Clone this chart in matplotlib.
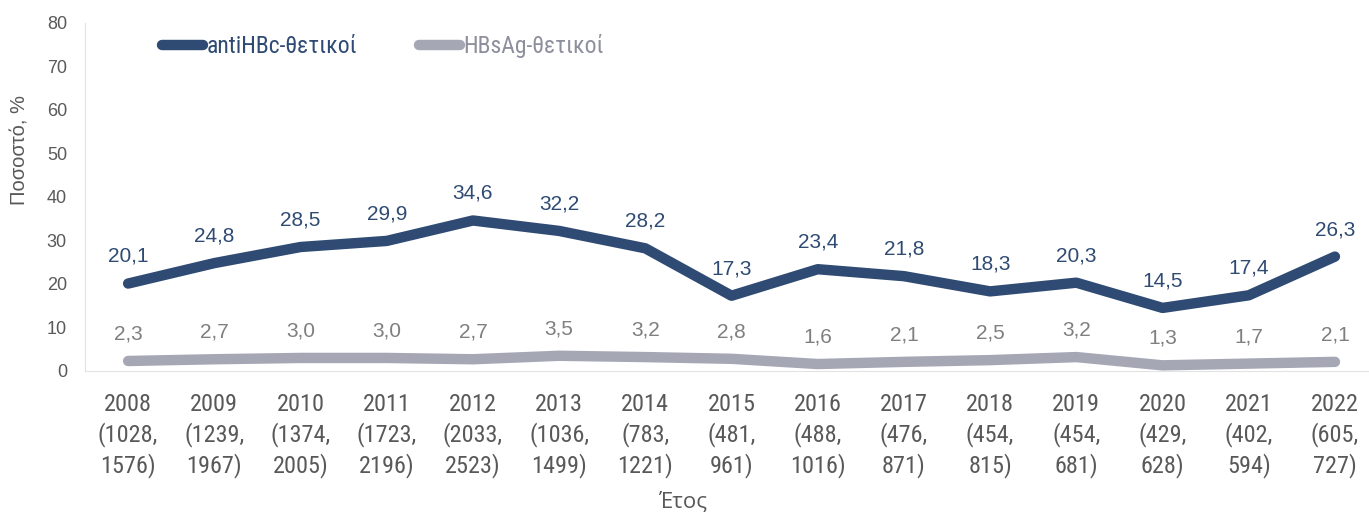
import numpy as np
import matplotlib.pyplot as plt

years = ['2008', '2009', '2010', '2011', '2012', '2013', '2014', '2015',
         '2016', '2017', '2018', '2019', '2020', '2021', '2022']
counts = ['(1028,\n1576)', '(1239,\n1967)', '(1374,\n2005)', '(1723,\n2196)',
          '(2033,\n2523)', '(1036,\n1499)', '(783,\n1221)', '(481,\n961)',
          '(488,\n1016)', '(476,\n871)', '(454,\n815)', '(454,\n681)',
          '(429,\n628)', '(402,\n594)', '(605,\n727)']
anti_hbc = [20.1, 24.8, 28.5, 29.9, 34.6, 32.2, 28.2, 17.3, 23.4, 21.8, 18.3, 20.3, 14.5, 17.4, 26.3]
hbsag = [2.3, 2.7, 3.0, 3.0, 2.7, 3.5, 3.2, 2.8, 1.6, 2.1, 2.5, 3.2, 1.3, 1.7, 2.1]

navy = '#2f4b73'
grey = '#a5a7b5'
txt = '#595959'
arial = ['Liberation Sans', 'DejaVu Sans']
narrow = ['Roboto Condensed', 'Liberation Sans', 'DejaVu Sans']
plt.rcParams['font.family'] = narrow

fig = plt.figure(figsize=(13.69, 5.12), dpi=100)
ax = fig.add_axes([0.0621, 0.2754, 0.9379, 0.6797])

x = np.arange(len(years))
ax.plot(x, anti_hbc, color=navy, lw=7.5, solid_capstyle='round', solid_joinstyle='round',
        label='antiHBc-θετικοί')
ax.plot(x, hbsag, color=grey, lw=7.5, solid_capstyle='round', solid_joinstyle='round',
        label='HBsAg-θετικοί')

for xi, v in zip(x, anti_hbc):
    ax.annotate(f'{v:.1f}'.replace('.', ','), (xi, v), xytext=(0, 19.5), textcoords='offset points',
                ha='center', va='center', fontsize=15, color=navy, family=arial)
for xi, v in zip(x, hbsag):
    ax.annotate(f'{v:.1f}'.replace('.', ','), (xi, v), xytext=(0, 19.5), textcoords='offset points',
                ha='center', va='center', fontsize=15, color='#7f7f7f', family=arial)

ax.set_xlim(-0.5, 14.395)
ax.set_ylim(0, 80)
ax.set_yticks(range(0, 81, 10))
ax.set_yticklabels([str(v) for v in range(0, 81, 10)], family=arial)
ax.set_xticks(x)
ax.set_xticklabels([f'{y}\n{c}' for y, c in zip(years, counts)], fontsize=17.5, color=txt,
                   linespacing=1.3)
ax.tick_params(axis='y', labelsize=13, labelcolor=txt, length=0, pad=13)
ax.tick_params(axis='x', length=0, pad=16)
for s in ['top', 'right']:
    ax.spines[s].set_visible(False)
for s in ['left', 'bottom']:
    ax.spines[s].set_color('#e3e3e3')

fig.text(20 / 1369, 1 - 150 / 512, 'Ποσοστό, %', rotation=90, ha='center', va='center',
         fontsize=14.5, color=txt, family=arial)
fig.text(683 / 1369, 1 - 502 / 512, 'Έτος', ha='center', va='center',
         fontsize=16, color=txt, family=['Open Sans', 'DejaVu Sans'])

leg = ax.legend(loc='upper left', bbox_to_anchor=(0.06, 0.968), ncol=2, frameon=False,
                fontsize=17, handlelength=1.74, handletextpad=0.15, columnspacing=2.6,
                borderpad=0, borderaxespad=0)
leg.get_texts()[0].set_color(navy)
leg.get_texts()[1].set_color('#8d8f9c')

fig.savefig('out.png', dpi=100)
